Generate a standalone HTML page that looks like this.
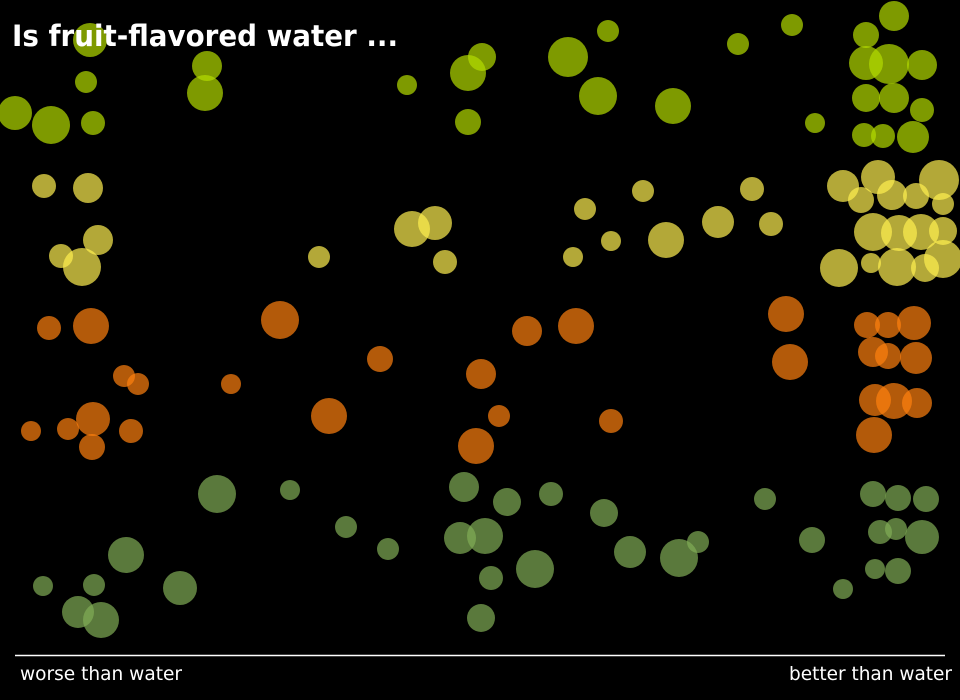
<!DOCTYPE html>
<html><head><meta charset="utf-8"><style>
html,body{margin:0;padding:0;background:#000;}
svg{display:block}
text{font-family:"DejaVu Sans","Liberation Sans",sans-serif;fill:#fff}
</style></head><body>
<svg width="960" height="700" viewBox="0 0 960 700" xmlns="http://www.w3.org/2000/svg">
<rect width="960" height="700" fill="#000"/>
<g fill="rgb(180,220,0)" fill-opacity="0.7">
<circle cx="90" cy="40" r="17"/><circle cx="86" cy="82" r="11"/><circle cx="15" cy="113" r="17"/><circle cx="51" cy="125" r="19"/><circle cx="93" cy="123" r="12"/><circle cx="207" cy="66" r="15"/><circle cx="205" cy="93" r="18"/><circle cx="407" cy="85" r="10"/><circle cx="468" cy="73" r="18"/><circle cx="482" cy="57" r="14"/><circle cx="468" cy="122" r="13"/><circle cx="568" cy="57" r="20"/><circle cx="608" cy="31" r="11"/><circle cx="598" cy="96" r="19"/><circle cx="673" cy="106" r="18"/><circle cx="738" cy="44" r="11"/><circle cx="792" cy="25" r="11"/><circle cx="815" cy="123" r="10"/><circle cx="894" cy="16" r="15"/><circle cx="866" cy="35" r="13"/><circle cx="866" cy="63" r="17"/><circle cx="889" cy="64" r="20"/><circle cx="922" cy="65" r="15"/><circle cx="866" cy="98" r="14"/><circle cx="894" cy="98" r="15"/><circle cx="922" cy="110" r="12"/><circle cx="864" cy="135" r="12"/><circle cx="883" cy="136" r="12"/><circle cx="913" cy="137" r="16"/>
</g>
<g fill="rgb(255,240,80)" fill-opacity="0.7">
<circle cx="44" cy="186" r="12"/><circle cx="88" cy="188" r="15"/><circle cx="98" cy="240" r="15"/><circle cx="61" cy="256" r="12"/><circle cx="82" cy="267" r="19"/><circle cx="319" cy="257" r="11"/><circle cx="412" cy="229" r="18"/><circle cx="435" cy="223" r="17"/><circle cx="445" cy="262" r="12"/><circle cx="585" cy="209" r="11"/><circle cx="573" cy="257" r="10"/><circle cx="611" cy="241" r="10"/><circle cx="643" cy="191" r="11"/><circle cx="666" cy="240" r="18"/><circle cx="718" cy="222" r="16"/><circle cx="752" cy="189" r="12"/><circle cx="771" cy="224" r="12"/><circle cx="843" cy="186" r="16"/><circle cx="861" cy="200" r="13"/><circle cx="878" cy="177" r="17"/><circle cx="892" cy="195" r="15"/><circle cx="916" cy="196" r="13"/><circle cx="939" cy="180" r="20"/><circle cx="943" cy="204" r="11"/><circle cx="873" cy="232" r="19"/><circle cx="899" cy="233" r="18"/><circle cx="921" cy="232" r="18"/><circle cx="943" cy="231" r="14"/><circle cx="839" cy="268" r="19"/><circle cx="871" cy="263" r="10"/><circle cx="897" cy="267" r="19"/><circle cx="925" cy="268" r="14"/><circle cx="943" cy="259" r="19"/>
</g>
<g fill="rgb(255,128,14)" fill-opacity="0.7">
<circle cx="49" cy="328" r="12"/><circle cx="91" cy="326" r="18"/><circle cx="280" cy="320" r="19"/><circle cx="380" cy="359" r="13"/><circle cx="527" cy="331" r="15"/><circle cx="576" cy="326" r="18"/><circle cx="786" cy="314" r="18"/><circle cx="790" cy="362" r="18"/><circle cx="124" cy="376" r="11"/><circle cx="138" cy="384" r="11"/><circle cx="231" cy="384" r="10"/><circle cx="329" cy="416" r="18"/><circle cx="481" cy="374" r="15"/><circle cx="499" cy="416" r="11"/><circle cx="611" cy="421" r="12"/><circle cx="476" cy="446" r="18"/><circle cx="31" cy="431" r="10"/><circle cx="68" cy="429" r="11"/><circle cx="93" cy="419" r="17"/><circle cx="92" cy="447" r="13"/><circle cx="131" cy="431" r="12"/><circle cx="867" cy="325" r="13"/><circle cx="888" cy="325" r="13"/><circle cx="914" cy="323" r="17"/><circle cx="873" cy="352" r="15"/><circle cx="888" cy="356" r="13"/><circle cx="916" cy="358" r="16"/><circle cx="875" cy="400" r="16"/><circle cx="894" cy="401" r="18"/><circle cx="917" cy="403" r="15"/><circle cx="874" cy="435" r="18"/>
</g>
<g fill="rgb(128,172,85)" fill-opacity="0.7">
<circle cx="217" cy="494" r="19"/><circle cx="290" cy="490" r="10"/><circle cx="346" cy="527" r="11"/><circle cx="388" cy="549" r="11"/><circle cx="126" cy="555" r="18"/><circle cx="43" cy="586" r="10"/><circle cx="94" cy="585" r="11"/><circle cx="78" cy="612" r="16"/><circle cx="101" cy="620" r="18"/><circle cx="180" cy="588" r="17"/><circle cx="464" cy="487" r="15"/><circle cx="507" cy="502" r="14"/><circle cx="551" cy="494" r="12"/><circle cx="604" cy="513" r="14"/><circle cx="460" cy="538" r="16"/><circle cx="485" cy="536" r="18"/><circle cx="491" cy="578" r="12"/><circle cx="535" cy="569" r="19"/><circle cx="481" cy="618" r="14"/><circle cx="630" cy="552" r="16"/><circle cx="679" cy="558" r="19"/><circle cx="698" cy="542" r="11"/><circle cx="765" cy="499" r="11"/><circle cx="812" cy="540" r="13"/><circle cx="843" cy="589" r="10"/><circle cx="873" cy="494" r="13"/><circle cx="898" cy="498" r="13"/><circle cx="926" cy="499" r="13"/><circle cx="880" cy="532" r="12"/><circle cx="896" cy="529" r="11"/><circle cx="922" cy="537" r="17"/><circle cx="875" cy="569" r="10"/><circle cx="898" cy="571" r="13"/>
</g>
<text x="12" y="46" font-size="29" font-weight="bold" textLength="386" lengthAdjust="spacingAndGlyphs">Is fruit-flavored water ...</text>
<line x1="15" y1="655.5" x2="945" y2="655.5" stroke="#fff" stroke-width="1.5"/>
<text x="20" y="680" font-size="19" textLength="162" lengthAdjust="spacingAndGlyphs">worse than water</text>
<text x="789" y="680" font-size="19" textLength="163" lengthAdjust="spacingAndGlyphs">better than water</text>
</svg>
</body></html>
